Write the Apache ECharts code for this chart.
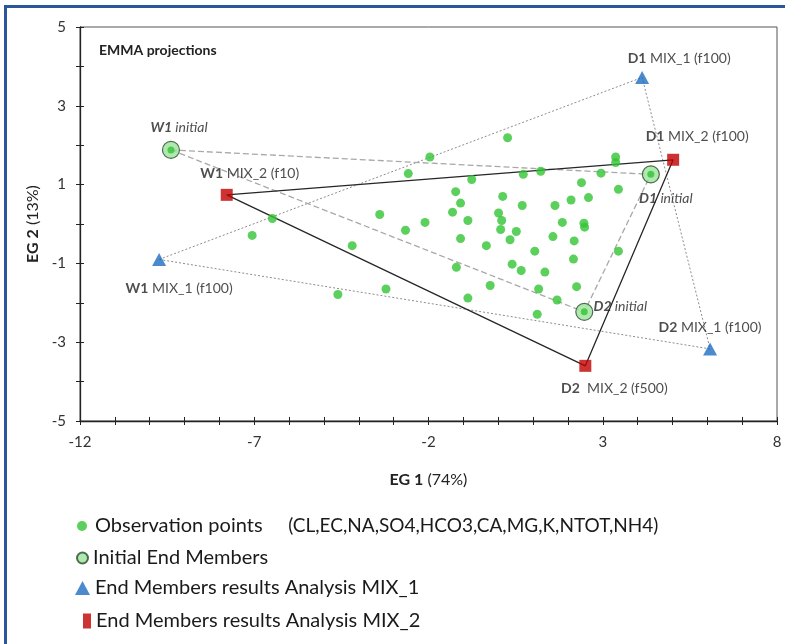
<!DOCTYPE html>
<html><head><meta charset="utf-8">
<script src="https://cdn.jsdelivr.net/npm/echarts@6/dist/echarts.min.js"></script>
<style>
html,body{margin:0;padding:0;background:#fff;overflow:hidden;}
#frame{position:absolute;left:4px;top:5px;width:800px;height:660px;border-left:3px solid #2B579A;border-top:3px solid #2B579A;}
#chart{position:absolute;left:0;top:0;width:785px;height:644px;}
</style></head><body>
<div id="frame"></div><div id="chart"></div>
<script>
// Observation points (EG1, EG2)
const obsX = [-1.96,-2.58,-0.76,-1.22,-1.08,-1.31,-0.87,-3.40,-2.10,-2.66,-1.08,-4.19,-1.20,-3.22,-4.60,-0.87,
  3.37,3.37,0.72,1.22,2.95,2.39,3.45,0.13,0.69,1.63,2.09,2.59,0.01,0.10,0.07,0.52,0.34,1.84,2.46,2.48,
  -0.34,1.57,2.18,1.05,2.16,3.45,0.40,0.66,1.34,-0.23,1.16,2.25,1.69,1.12,0.27,-6.48,-7.06];
const obsY = [1.70,1.28,1.13,0.82,0.53,0.30,0.09,0.24,0.04,-0.16,-0.37,-0.55,-1.10,-1.65,-1.79,-1.88,
  1.70,1.56,1.26,1.34,1.29,1.05,0.88,0.70,0.47,0.47,0.61,0.67,0.28,0.09,-0.14,-0.19,-0.40,0.04,0.02,-0.08,
  -0.55,-0.32,-0.43,-0.69,-0.89,-0.69,-1.02,-1.18,-1.22,-1.56,-1.65,-1.59,-1.93,-2.29,2.19,0.14,-0.29];

// End members: W1, D1, D2
const memberNames = ['W1', 'D1', 'D2'];
const initialX = [-9.39, 4.38, 2.47];
const initialY = [1.88, 1.26, -2.23];
const mix1X = [-9.73, 4.13, 6.08];
const mix1Y = [-0.90, 3.72, -3.17];
const mix1Suffix = [' MIX_1 (f100)', ' MIX_1 (f100)', ' MIX_1 (f100)'];
const mix2X = [-7.79, 5.02, 2.50];
const mix2Y = [0.74, 1.63, -3.60];
const mix2Suffix = [' MIX_2 (f10)', ' MIX_2 (f100)', '  MIX_2 (f500)'];

// Tick labels
const xTickLabels = [-12, -7, -2, 3, 8];
const yTickLabels = [-5, -3, -1, 1, 3, 5];

// Texts
const titleText = 'EMMA projections';
const xName = ['EG 1', ' (74%)'];
const yName = ['EG 2', ' (13%)'];
const obsVariables = '(CL,EC,NA,SO4,HCO3,CA,MG,K,NTOT,NH4)';
const legendNames = [
  'Observation points',
  'Initial End Members',
  'End Members results Analysis MIX_1',
  'End Members results Analysis MIX_2'
];

// label offsets (style only)
const initialLabelOffsets = [[8,-22],[15,24],[36,-5]];
const mix1LabelOffsets = [[20,29],[37,-19],[0,-21]];
const mix2LabelOffsets = [[23,-21],[24,-23],[29,23]];

const FONT = 'Lato, "Open Sans", sans-serif';
const green = '#33C433';

function pts(xs, ys) { return xs.map((x, i) => [x, ys[i]]); }
function closed(xs, ys) { const p = pts(xs, ys); p.push(p[0]); return p; }

function labeled(xs, ys, offsets, fmt) {
  return xs.map((x, i) => ({
    value: [x, ys[i]],
    label: { show: true, position: 'inside', offset: offsets[i], formatter: fmt(i) }
  }));
}

const labelBase = {
  fontSize: 14, color: '#222', fontFamily: FONT,
  rich: {
    bi: { fontWeight: 'bold', fontStyle: 'italic', fontSize: 14, color: '#222', fontFamily: FONT },
    it: { fontStyle: 'italic', fontSize: 14, color: '#222', fontFamily: FONT },
    b: { fontWeight: 'bold', fontSize: 14, color: '#222', fontFamily: FONT },
    n: { fontSize: 14, color: '#222', fontFamily: FONT }
  }
};

const chart = echarts.init(document.getElementById('chart'), null, { renderer: 'canvas' });

const xAxisBase = { type: 'value', min: -12, max: 8, interval: 1, splitLine: { show: false } };
const yAxisBase = { type: 'value', min: -5, max: 5, interval: 1, splitLine: { show: false } };

const option = {
  animation: false,
  textStyle: { fontFamily: FONT },
  title: {
    text: titleText, left: 99, top: 43, padding: 0,
    textStyle: { fontSize: 14, fontWeight: 'bold', color: '#222', fontFamily: FONT }
  },
  grid: { left: 80, top: 27, width: 697, height: 394, show: true, borderColor: '#555', borderWidth: 1, containLabel: false },
  xAxis: [
    Object.assign({}, xAxisBase, {
      position: 'bottom',
      axisLine: { show: true, onZero: false, lineStyle: { color: '#222', width: 1.3 } },
      axisTick: { show: true, length: 4, lineStyle: { color: '#222' } },
      axisLabel: { margin: 14, fontSize: 15, color: '#333', fontFamily: FONT,
        formatter: v => xTickLabels.includes(Math.round(v)) ? String(Math.round(v)) : '' },
      name: '{b|' + xName[0] + '}' + xName[1], nameLocation: 'middle', nameGap: 51,
      nameTextStyle: { fontSize: 16, color: '#222', fontFamily: FONT,
        rich: { b: { fontSize: 16, fontWeight: 'bold', color: '#222', fontFamily: FONT } } }
    }),
    Object.assign({}, xAxisBase, {
      position: 'bottom',
      axisLine: { show: false, onZero: false }, axisLabel: { show: false },
      axisTick: { show: true, inside: true, length: 4, lineStyle: { color: '#222' } }
    })
  ],
  yAxis: [
    Object.assign({}, yAxisBase, {
      position: 'left',
      axisLine: { show: true, onZero: false, lineStyle: { color: '#222', width: 1.3 } },
      axisTick: { show: true, length: 4, lineStyle: { color: '#222' } },
      axisLabel: { margin: 14, fontSize: 15, color: '#333', fontFamily: FONT,
        formatter: v => yTickLabels.includes(Math.round(v)) ? String(Math.round(v)) : '' },
      name: '{b|' + yName[0] + '}' + yName[1], nameLocation: 'middle', nameGap: 39, nameRotate: 90,
      nameTextStyle: { fontSize: 16, color: '#222', fontFamily: FONT,
        rich: { b: { fontSize: 16, fontWeight: 'bold', color: '#222', fontFamily: FONT } } }
    }),
    Object.assign({}, yAxisBase, {
      position: 'left',
      axisLine: { show: false, onZero: false }, axisLabel: { show: false },
      axisTick: { show: true, inside: true, length: 4, lineStyle: { color: '#222' } }
    })
  ],
  legend: [0, 1, 2, 3].map(i => ({
    data: [legendNames[i]],
    left: [77, 76, 75, 83][i],
    top: [516, 548, 578, 611][i],
    padding: 0,
    itemGap: 0,
    itemWidth: [10, 11, 15, 8][i],
    itemHeight: [10, 12, 14, 15][i],
    icon: ['circle', 'circle', 'triangle', 'rect'][i],
    selectedMode: false,
    formatter: i === 0 ? (n => '{a|' + n + '}{s|     }{c|' + obsVariables + '}') : (n => n),
    textStyle: {
      fontSize: 20, color: '#1a1a1a', fontFamily: FONT, padding: [0, 0, 0, i === 0 ? 3 : 0],
      rich: {
        a: { fontSize: 20, color: '#1a1a1a', fontFamily: FONT },
        s: { fontSize: 20, fontFamily: FONT },
        c: { fontSize: 19, color: '#1a1a1a', fontFamily: FONT }
      }
    }
  })),
  series: [
    { name: 'mix1Tri', type: 'line', data: closed(mix1X, mix1Y), symbol: 'none', silent: true, z: 1,
      lineStyle: { color: '#8C8C8C', width: 1, type: [2, 2] } },
    { name: 'initTri', type: 'line', data: closed(initialX, initialY), symbol: 'none', silent: true, z: 1,
      lineStyle: { color: '#A8A8A8', width: 1.3, type: [6, 3] } },
    { name: 'mix2Tri', type: 'line', data: closed(mix2X, mix2Y), symbol: 'none', silent: true, z: 2,
      lineStyle: { color: '#262626', width: 1.3 } },
    { name: legendNames[0], type: 'scatter', data: pts(obsX, obsY), symbol: 'circle', symbolSize: 9, z: 3,
      itemStyle: { color: green } },
    { name: legendNames[1], type: 'scatter', z: 4, symbol: 'circle', symbolSize: 17,
      itemStyle: { color: '#9BE49B', borderColor: '#2A4A2A', borderWidth: 1.2 },
      label: labelBase,
      data: labeled(initialX, initialY, initialLabelOffsets, i => '{bi|' + memberNames[i] + '}{it| initial}') },
    { name: 'initCore', type: 'scatter', z: 5, symbol: 'circle', symbolSize: 7, silent: true,
      itemStyle: { color: green }, data: pts(initialX, initialY) },
    { name: legendNames[2], type: 'scatter', z: 4, symbol: 'triangle', symbolSize: [14, 13],
      itemStyle: { color: '#1F6DC2' }, label: labelBase,
      data: labeled(mix1X, mix1Y, mix1LabelOffsets, i => '{b|' + memberNames[i] + '}{n|' + mix1Suffix[i] + '}') },
    { name: legendNames[3], type: 'scatter', z: 4, symbol: 'rect', symbolSize: 12,
      itemStyle: { color: '#C00000' }, label: labelBase,
      data: labeled(mix2X, mix2Y, mix2LabelOffsets, i => '{b|' + memberNames[i] + '}{n|' + mix2Suffix[i] + '}') }
  ]
};
chart.setOption(option);
</script>
</body></html>
